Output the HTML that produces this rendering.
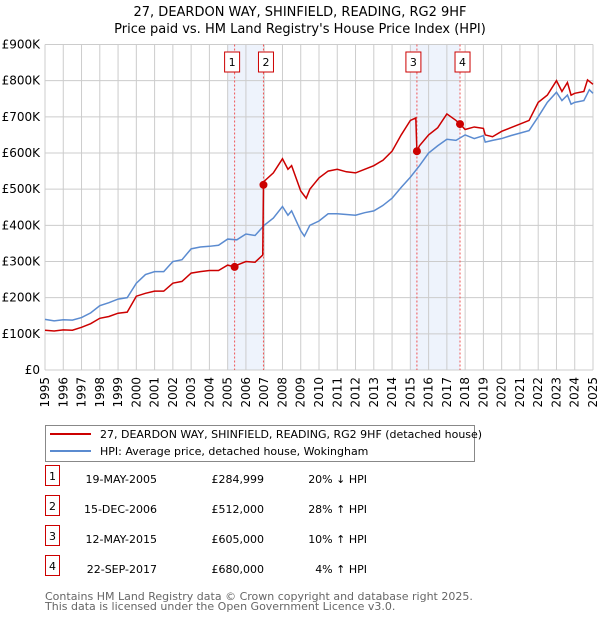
<!DOCTYPE html>
<html><head><meta charset="utf-8"><style>
body{margin:0;background:#fff;width:600px;height:620px;overflow:hidden}
svg{display:block;font-family:"DejaVu Sans","Liberation Sans",sans-serif}
</style></head><body>
<svg id="c" width="600" height="620"></svg>
<script>
const hpiYears=[1995,1995.5,1996,1996.5,1997,1997.5,1998,1998.5,1999,1999.5,2000,2000.5,2001,2001.5,2002,2002.5,2003,2003.5,2004,2004.5,2005,2005.5,2006,2006.5,2007,2007.5,2008,2008.3,2008.5,2009,2009.2,2009.5,2010,2010.5,2011,2011.5,2012,2012.5,2013,2013.5,2014,2014.5,2015,2015.5,2016,2016.5,2017,2017.5,2018,2018.5,2019,2019.1,2019.5,2020,2020.5,2021,2021.5,2022,2022.5,2023,2023.3,2023.6,2023.8,2024,2024.5,2024.8,2025];
const hpiValues=[140,136,139,138,145,158,178,186,196,200,240,264,272,272,300,305,335,340,342,345,362,360,376,372,400,420,452,428,440,385,370,400,412,432,432,430,428,435,440,455,475,505,533,565,600,620,638,635,650,640,648,630,635,640,648,655,662,700,740,768,745,760,735,740,745,775,765];
const redYears=[1995,1995.5,1996,1996.5,1997,1997.5,1998,1998.5,1999,1999.5,2000,2000.5,2001,2001.5,2002,2002.5,2003,2003.5,2004,2004.5,2005,2005.38,2005.5,2006,2006.5,2006.92,2006.96,2007,2007.5,2008,2008.3,2008.5,2009,2009.3,2009.5,2010,2010.5,2011,2011.5,2012,2012.5,2013,2013.5,2014,2014.5,2015,2015.3,2015.36,2015.5,2016,2016.5,2017,2017.5,2017.72,2018,2018.5,2019,2019.1,2019.5,2020,2020.5,2021,2021.5,2022,2022.5,2023,2023.3,2023.6,2023.8,2024,2024.5,2024.7,2025];
const redValues=[110,108,111,110,118,128,143,148,157,160,204,212,218,218,240,245,268,272,275,275,290,285,290,300,298,318,512,522,545,584,555,565,495,475,500,531,550,555,548,545,555,565,580,605,650,690,697,605,620,650,670,708,690,680,665,672,668,650,645,660,670,680,690,740,760,800,770,795,760,765,770,802,790];
const saleYears=[2005.38,2006.96,2015.36,2017.72];
const saleValues=[284.999,512,605,680];
const saleLabels=["1","2","3","4"];
const yTicks=[0,100,200,300,400,500,600,700,800,900];
const yTickLabels=["£0","£100K","£200K","£300K","£400K","£500K","£600K","£700K","£800K","£900K"];
const xTicks=[1995,1996,1997,1998,1999,2000,2001,2002,2003,2004,2005,2006,2007,2008,2009,2010,2011,2012,2013,2014,2015,2016,2017,2018,2019,2020,2021,2022,2023,2024,2025];
const rows=[["19-MAY-2005","£284,999","20% ↓ HPI"],["15-DEC-2006","£512,000","28% ↑ HPI"],["12-MAY-2015","£605,000","10% ↑ HPI"],["22-SEP-2017","£680,000","4% ↑ HPI"]];

const NS="http://www.w3.org/2000/svg",svg=document.getElementById('c');
const X=y=>45+(y-1995)*(548/30), Y=v=>370-v*(325.5/900);
function el(t,a,p){const e=document.createElementNS(NS,t);for(const k in a)e.setAttribute(k,a[k]);(p||svg).appendChild(e);return e;}
function txt(s,a,p){const e=el('text',a,p);e.textContent=s;return e;}

let t=txt("27, DEARDON WAY, SHINFIELD, READING, RG2 9HF",{x:300,y:16,'text-anchor':'middle','font-size':13});

t=txt("Price paid vs. HM Land Registry's House Price Index (HPI)",{x:300,y:33,'text-anchor':'middle','font-size':13});


// shaded spans (from start of first sale year to second sale)
[[0,1],[2,3]].forEach((p,i)=>{const x0=X(Math.floor(saleYears[p[0]]));const r=el('rect',{x:x0,y:Y(900),width:X(saleYears[p[1]])-x0,height:Y(0)-Y(900),fill:'#eef3fc'});
});
// grid
xTicks.forEach(v=>{el('line',{x1:X(v),x2:X(v),y1:Y(900),y2:Y(0),stroke:'#ccc'});
 const l=txt(String(v),{transform:`translate(${X(v)+4},${Y(0)+7}) rotate(-90)`,'text-anchor':'end','font-size':12});
 });
yTicks.forEach((v,i)=>{el('line',{x1:45,x2:X(2025),y1:Y(v),y2:Y(v),stroke:'#ccc'});
 const l=txt(yTickLabels[i],{x:40,y:Y(v)+4,'text-anchor':'end','font-size':12});
 });
// sale vlines + markers
saleYears.forEach((s,i)=>{el('line',{x1:X(s),x2:X(s),y1:Y(900),y2:Y(0),stroke:'#e55','stroke-dasharray':'2,2','stroke-width':1});
 const b=el('rect',{x:X(s)-10,y:52,width:15,height:20,fill:'#fff',stroke:'#c00'});
 b.setAttribute('x',X(s)-(i%2?5:11)+ (i==0?1:0));
 
 const l=txt(saleLabels[i],{x:+b.getAttribute('x')+7.5,y:66,'text-anchor':'middle','font-size':11});
 });
function line(xs,vs,col,name){const p=el('polyline',{points:xs.map((x,i)=>X(x)+','+Y(vs[i])).join(' '),fill:'none',stroke:col,'stroke-width':1.5});
 }
line(hpiYears,hpiValues,'#5b8bd0','hpi-line');
line(redYears,redValues,'#cc0000','price-paid-line');
saleYears.forEach((s,i)=>{const c=el('circle',{cx:X(s),cy:Y(saleValues[i]),r:4,fill:'#cc0000'});
 });
// legend
const lg=el('g',{});
el('rect',{x:45.5,y:425.5,width:429,height:36,fill:'#fff',stroke:'#888'},lg);
el('line',{x1:50,x2:91,y1:434,y2:434,stroke:'#cc0000','stroke-width':2},lg);
el('line',{x1:50,x2:91,y1:451,y2:451,stroke:'#5b8bd0','stroke-width':2},lg);
t=txt("27, DEARDON WAY, SHINFIELD, READING, RG2 9HF (detached house)",{x:100,y:438,'font-size':11},lg);

t=txt("HPI: Average price, detached house, Wokingham",{x:100,y:455,'font-size':11},lg);

// table
rows.forEach((r,i)=>{const yc=483+i*30;
 const b=el('rect',{x:45.5,y:yc-17.5,width:14,height:20,fill:'#fff',stroke:'#c00'});
 
 txt(String(i+1),{x:52.5,y:yc-3,'text-anchor':'middle','font-size':11});
 let a=txt(r[0],{x:157,y:yc,'text-anchor':'end','font-size':11});
 a=txt(r[1],{x:264,y:yc,'text-anchor':'end','font-size':11});
 a=txt(r[2],{x:367,y:yc,'text-anchor':'end','font-size':11});});
t=txt("Contains HM Land Registry data © Crown copyright and database right 2025.",{x:45,y:600,'font-size':11,fill:'#666'});

t=txt("This data is licensed under the Open Government Licence v3.0.",{x:45,y:610,'font-size':11,fill:'#666'});

</script>
</body></html>
